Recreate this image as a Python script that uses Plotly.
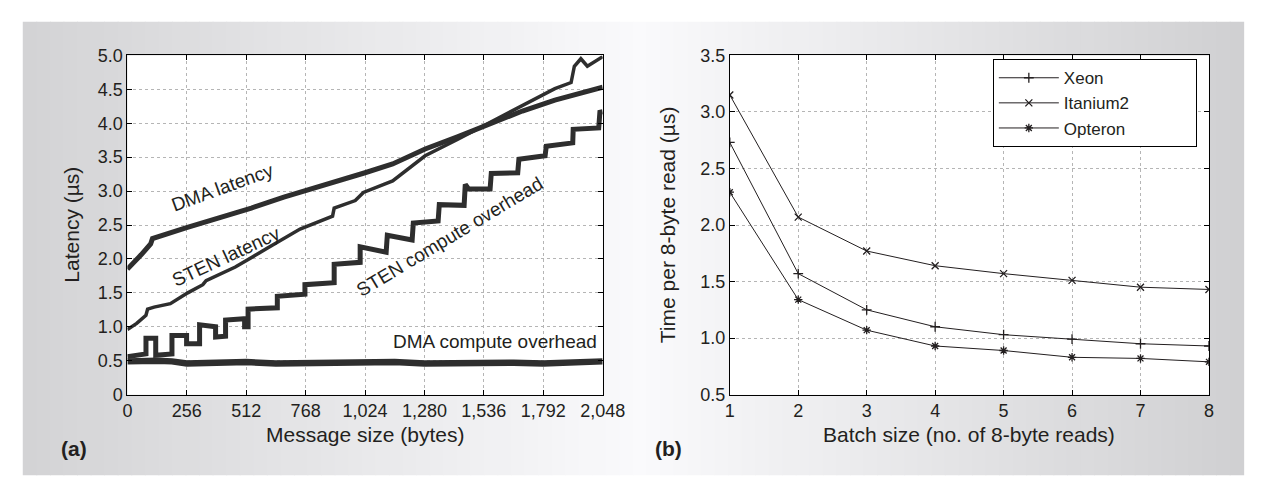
import plotly.graph_objects as go

W, H = 1266, 480
INK = "#231f20"
FONT = "Liberation Sans"

# ---- panel (a): latency vs message size ----
dma_lat_x = [0, 30, 59, 100, 108, 255, 395, 534, 674, 814, 954, 1024, 1143, 1283, 1422, 1562, 1702, 1842, 2048]
dma_lat_y = [1.85, 1.95, 2.06, 2.22, 2.30, 2.46, 2.60, 2.75, 2.91, 3.05, 3.19, 3.27, 3.40, 3.62, 3.80, 3.99, 4.18, 4.34, 4.53]

sten_lat_x = [0, 40, 80, 87, 115, 185, 260, 325, 339, 465, 604, 744, 884, 891, 982, 1017,
              1143, 1283, 1422, 1562, 1702, 1842, 1912, 1926, 1954, 1982, 2048]
sten_lat_y = [0.96, 1.05, 1.17, 1.26, 1.29, 1.34, 1.50, 1.62, 1.68, 1.88, 2.16, 2.44, 2.63, 2.75, 2.86, 2.98,
              3.15, 3.52, 3.76, 4.01, 4.25, 4.51, 4.60, 4.84, 4.95, 4.84, 4.98]

sten_cmp_x = [0, 80, 80, 122, 122, 192, 192, 255, 255, 311, 311, 380, 380, 423, 423, 505, 505, 520, 520,
              646, 646, 765, 765, 891, 891, 1003, 1003, 1115, 1120, 1227, 1232, 1339, 1344, 1451, 1456,
              1470, 1563, 1568, 1682, 1687, 1800, 1805, 1919, 1921, 2031, 2036, 2048]
sten_cmp_y = [0.56, 0.60, 0.83, 0.83, 0.58, 0.60, 0.87, 0.87, 0.75, 0.75, 1.03, 1.00, 0.85, 0.86, 1.10, 1.12, 1.00, 1.00, 1.26,
              1.28, 1.45, 1.48, 1.62, 1.65, 1.92, 1.95, 2.18, 2.10, 2.35, 2.28, 2.53, 2.56, 2.80, 2.79, 3.10,
              3.03, 3.03, 3.26, 3.27, 3.47, 3.52, 3.66, 3.71, 3.91, 3.93, 4.16, 4.17]

dma_cmp_x = [0, 64, 128, 192, 256, 384, 512, 640, 768, 896, 1024, 1152, 1280, 1408, 1536, 1664, 1792, 1920, 2048]
dma_cmp_y = [0.49, 0.50, 0.50, 0.49, 0.46, 0.47, 0.48, 0.46, 0.47, 0.48, 0.47, 0.48, 0.46, 0.47, 0.46, 0.47, 0.46, 0.47, 0.49]

a_xticks = [0, 256, 512, 768, 1024, 1280, 1536, 1792, 2048]
a_xlabels = ["0", "256", "512", "768", "1,024", "1,280", "1,536", "1,792", "2,048"]
a_yticks = [0, 0.5, 1.0, 1.5, 2.0, 2.5, 3.0, 3.5, 4.0, 4.5, 5.0]
a_ylabels = ["0", "0.5", "1.0", "1.5", "2.0", "2.5", "3.0", "3.5", "4.0", "4.5", "5.0"]

# ---- panel (b): time per read vs batch size ----
batch = [1, 2, 3, 4, 5, 6, 7, 8]
xeon = [2.73, 1.57, 1.25, 1.10, 1.03, 0.99, 0.95, 0.93]
itanium2 = [3.15, 2.07, 1.77, 1.64, 1.57, 1.51, 1.45, 1.43]
opteron = [2.29, 1.34, 1.07, 0.93, 0.89, 0.83, 0.82, 0.79]
b_yticks = [0.5, 1.0, 1.5, 2.0, 2.5, 3.0, 3.5]

fig = go.Figure()

# band widths mimic the dense marker clouds of the original
for xs, ys, w in [(dma_cmp_x, dma_cmp_y, 6.5), (sten_cmp_x, sten_cmp_y, 5), (sten_lat_x, sten_lat_y, 3.5),
                  (dma_lat_x, dma_lat_y, 5)]:
    fig.add_trace(go.Scatter(x=xs, y=ys, mode="lines", line=dict(color="#2e2e2e", width=w),
                             showlegend=False, xaxis="x", yaxis="y"))

pad = "\u00a0" * 13
for name, ys, sym in [("Xeon", xeon, "cross-thin"), ("Itanium2", itanium2, "x-thin"), ("Opteron", opteron, "asterisk")]:
    fig.add_trace(go.Scatter(x=batch, y=ys, name=name + pad, mode="lines+markers",
                             line=dict(color=INK, width=1),
                             marker=dict(symbol=sym, size=7, color=INK, line=dict(color=INK, width=1.3)),
                             xaxis="x2", yaxis="y2"))

def px(x): return x / W
def py(y): return 1 - y / H

axis_common = dict(showline=True, linecolor="black", linewidth=1, mirror="ticks", ticks="inside",
                   ticklen=5, tickcolor="black", showgrid=True, gridcolor="#b5b5b5", griddash="dot",
                   gridwidth=1, zeroline=False, tickfont=dict(family=FONT, size=18, color=INK))

fig.update_layout(
    width=W, height=H, margin=dict(l=0, r=0, t=0, b=0),
    paper_bgcolor="white", plot_bgcolor="rgba(0,0,0,0)",
    xaxis=dict(domain=[px(117), px(603)], range=[0, 2048], tickvals=a_xticks, ticktext=a_xlabels,
               anchor="y", **axis_common),
    yaxis=dict(domain=[py(393), py(39)], range=[0, 5.0], tickvals=a_yticks, ticktext=a_ylabels,
               anchor="x", **axis_common),
    xaxis2=dict(domain=[px(733), px(1223)], range=[1, 8], dtick=1, anchor="y2", **axis_common),
    yaxis2=dict(domain=[py(393), py(39)], range=[0.5, 3.5], tickvals=b_yticks, tickformat=".1f",
                anchor="x2", **axis_common),
    legend=dict(x=px(1002), y=py(43), xanchor="left", yanchor="top", bgcolor="white",
                bordercolor="black", borderwidth=1, font=dict(family=FONT, size=17, color=INK),
                tracegroupgap=0, itemwidth=60),
)

# gradient background
shapes = []
n = 90
gx0, gx1 = 10, 1258
for i in range(n):
    x0 = gx0 + (gx1 - gx0) * i / n
    x1 = gx0 + (gx1 - gx0) * (i + 1) / n
    xc = (x0 + x1) / 2
    if xc < 640:
        g = 0xd2 + (0xfa - 0xd2) * (xc / 640)
    else:
        g = 0xfa - (0xfa - 0xcf) * ((xc - 640) / (W - 640))
    g = int(round(g))
    shapes.append(dict(type="rect", xref="paper", yref="paper", x0=px(x0), x1=px(x1 + 1), y0=py(477), y1=py(4),
                       fillcolor=f"rgb({g},{g},{g + 2})", line=dict(width=0), layer="below"))
for a, b in [(117, 603), (733, 1223)]:
    shapes.append(dict(type="rect", xref="paper", yref="paper", x0=px(a), x1=px(b), y0=py(393), y1=py(39),
                       fillcolor="white", line=dict(width=0), layer="below"))
fig.update_layout(shapes=shapes)

ann_font = dict(family=FONT, size=19, color=INK)
title_font = dict(family=FONT, size=21, color=INK)
annotations = [
    dict(text="DMA latency", x=409, y=3.05, xref="x", yref="y", textangle=-20, font=ann_font),
    dict(text="STEN latency", x=426, y=2.03, xref="x", yref="y", textangle=-25, font=ann_font),
    dict(text="STEN compute overhead", x=1390, y=2.33, xref="x", yref="y", textangle=-31, font=ann_font),
    dict(text="DMA compute overhead", x=1582, y=0.78, xref="x", yref="y", textangle=0, font=ann_font),
    dict(text="Latency (µs)", x=px(60), y=py(216), xref="paper", yref="paper", textangle=-90, font=title_font),
    dict(text="Message size (bytes)", x=px(360), y=py(435), xref="paper", yref="paper", font=title_font),
    dict(text="<b>(a)</b>", x=px(62), y=py(449), xref="paper", yref="paper", font=title_font),
    dict(text="Time per 8-byte read (µs)", x=px(670), y=py(216), xref="paper", yref="paper", textangle=-90,
         font=title_font),
    dict(text="Batch size (no. of 8-byte reads)", x=px(978), y=py(435), xref="paper", yref="paper",
         font=title_font),
    dict(text="<b>(b)</b>", x=px(670), y=py(449), xref="paper", yref="paper", font=title_font),
]
for a in annotations:
    a.update(showarrow=False, xanchor="center", yanchor="middle")
fig.update_layout(annotations=annotations)

fig.write_html("out.html")
